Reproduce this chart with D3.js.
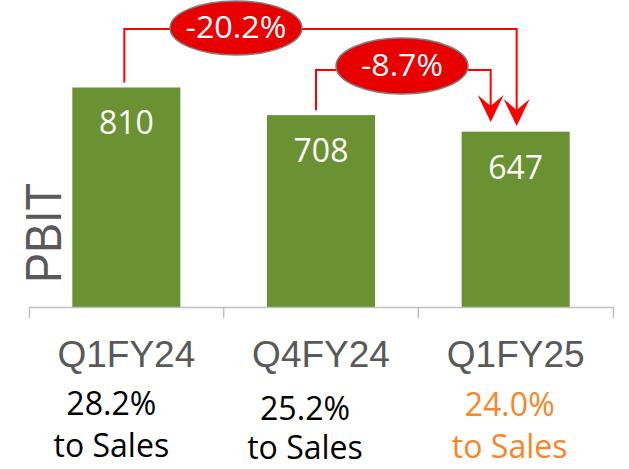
<!DOCTYPE html>
<html>
<head>
<meta charset="utf-8">
<script src="https://cdn.jsdelivr.net/npm/d3@7"></script>
<style>
  body { margin: 0; background: #fff; }
  svg { display: block; }
</style>
</head>
<body>
<div id="chart"></div>
<script>
// chart data
var categories = ["Q1FY24", "Q4FY24", "Q1FY25"];
var pbitValues = [810, 708, 647];
var salesPct = ["28.2%", "25.2%", "24.0%"];
var salesPctColors = ["#000000", "#000000", "#f7862a"];
var changeLabels = ["-20.2%", "-8.7%"];   // Q1FY24 -> Q1FY25, Q4FY24 -> Q1FY25
var changeFrom = [0, 1];

var svgWidth = 629;
var svgHeight = 469;
var baseY = 307;

var svg = d3.select("#chart")
  .append("svg")
  .attr("width", svgWidth)
  .attr("height", svgHeight);

var x = d3.scaleBand()
  .domain(categories)
  .range([29, 613])
  .paddingInner(0.445)
  .paddingOuter(0.2225);

var y = d3.scaleLinear()
  .domain([0, 1000])
  .range([baseY, 36]);

var segoe = "'Segoe UI', 'Open Sans', 'Noto Sans', sans-serif";

// bars
svg.selectAll("rect.bar")
  .data(pbitValues)
  .enter()
  .append("rect")
  .attr("class", "bar")
  .attr("x", (d, i) => x(categories[i]))
  .attr("y", d => y(d))
  .attr("width", x.bandwidth())
  .attr("height", d => baseY - y(d))
  .attr("fill", "#6a9232");

// value labels inside bars
svg.selectAll("text.val")
  .data(pbitValues)
  .enter()
  .append("text")
  .attr("class", "val")
  .attr("x", (d, i) => x(categories[i]) + x.bandwidth() / 2)
  .attr("y", d => y(d) + 47)
  .attr("text-anchor", "middle")
  .attr("font-family", segoe)
  .attr("font-size", 32)
  .attr("fill", "#ffffff")
  .text(d => d);

// x axis
var xAxis = d3.axisBottom(x)
  .tickSizeInner(0)
  .tickSizeOuter(11)
  .tickPadding(34);

var axisG = svg.append("g")
  .attr("transform", `translate(0, ${baseY})`)
  .call(xAxis);

axisG.select(".domain").attr("stroke", "#bfbfbf").attr("stroke-width", 1.5);
axisG.selectAll(".tick text")
  .attr("font-family", "'Liberation Sans', Arial, sans-serif")
  .attr("font-size", 37)
  .attr("fill", "#595959");

// inner ticks at band boundaries
categories.slice(1).forEach(function(c) {
  var bx = x(c) - x.step() * x.paddingInner() / 2;
  axisG.append("line")
    .attr("x1", bx).attr("x2", bx)
    .attr("y1", 0).attr("y2", 11)
    .attr("stroke", "#bfbfbf")
    .attr("stroke-width", 1.5);
});

// y axis title
svg.append("text")
  .attr("transform", "translate(61, 283) rotate(-90)")
  .attr("font-family", "'Liberation Sans', Arial, sans-serif")
  .attr("font-size", 50)
  .attr("textLength", 100)
  .attr("lengthAdjust", "spacingAndGlyphs")
  .attr("fill", "#595959")
  .text("PBIT");

// % to sales labels under the categories
var pctG = svg.selectAll("g.pct")
  .data(salesPct)
  .enter()
  .append("g")
  .attr("class", "pct")
  .attr("transform", (d, i) => `translate(${x(categories[i]) + x.bandwidth() / 2 - [15, 16, 6][i]}, 0)`)
  .attr("font-family", segoe)
  .attr("font-size", 32)
  .attr("text-anchor", "middle")
  .attr("fill", (d, i) => salesPctColors[i]);

pctG.append("text")
  .attr("y", (d, i) => [415, 420, 416][i])
  .attr("textLength", 90)
  .attr("lengthAdjust", "spacingAndGlyphs")
  .text(d => d);

pctG.append("text")
  .attr("y", (d, i) => [457, 459, 458][i])
  .text("to Sales");

// change connectors with arrows
var target = categories.length - 1;
var cx3 = x(categories[target]) + x.bandwidth() / 2;

var connectors = [
  { from: 0, lineY: 29, startX: x(categories[0]) + x.bandwidth() / 2 - 2, endX: cx3 + 1, tipY: 126, ell: { cx: 236, cy: 28, rx: 66, ry: 27 }, w: 101 },
  { from: 1, lineY: 70, startX: x(categories[1]) + x.bandwidth() / 2 - 5, endX: cx3 - 25, tipY: 122, ell: { cx: 402, cy: 66, rx: 66, ry: 28 }, w: 82 }
];

connectors.forEach(function(c, k) {
  var startY = y(pbitValues[changeFrom[k]]) - 5;
  svg.append("path")
    .attr("d", `M${c.startX},${startY} V${c.lineY} H${c.endX} V${c.tipY - 14}`)
    .attr("fill", "none")
    .attr("stroke", "#ff0000")
    .attr("stroke-width", 2);

  svg.append("path")
    .attr("d", `M${c.endX},${c.tipY} L${c.endX - 13},${c.tipY - 27} L${c.endX},${c.tipY - 16} L${c.endX + 13},${c.tipY - 27} Z`)
    .attr("fill", "#ff0000");

  svg.append("ellipse")
    .attr("cx", c.ell.cx)
    .attr("cy", c.ell.cy)
    .attr("rx", c.ell.rx)
    .attr("ry", c.ell.ry)
    .attr("fill", "#e80000")
    .attr("stroke", "#7f7f7f")
    .attr("stroke-width", 1.5);

  svg.append("text")
    .attr("x", c.ell.cx)
    .attr("y", c.ell.cy + 10)
    .attr("text-anchor", "middle")
    .attr("font-family", segoe)
    .attr("font-size", 31)
    .attr("textLength", c.w)
    .attr("lengthAdjust", "spacingAndGlyphs")
    .attr("fill", "#ffffff")
    .text(changeLabels[k]);
});
</script>
</body>
</html>
